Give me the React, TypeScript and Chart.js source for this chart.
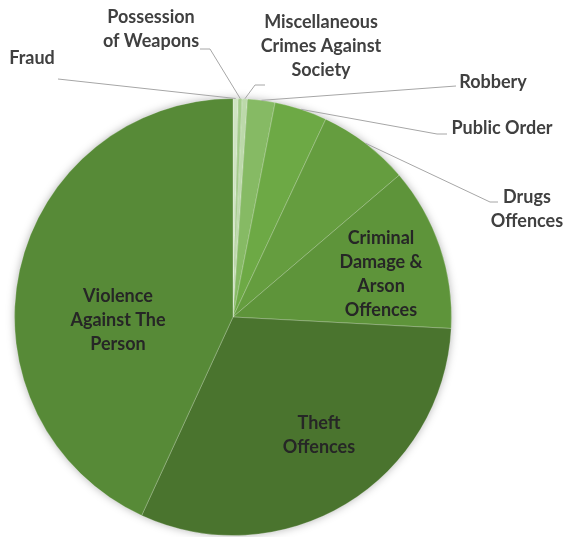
import React, { useEffect, useRef } from "react";
import { Chart, registerables } from "chart.js";

Chart.register(...registerables);

// ---- Data ----
const categories = [
  "Fraud",
  "Possession of Weapons",
  "Miscellaneous Crimes Against Society",
  "Robbery",
  "Public Order",
  "Drugs Offences",
  "Criminal Damage & Arson Offences",
  "Theft Offences",
  "Violence Against The Person",
];
const values = [0.39, 0.28, 0.39, 2.03, 3.89, 6.78, 12.08, 31.03, 43.14];
const labelLines = [
  ["Fraud"],
  ["Possession", "of Weapons"],
  ["Miscellaneous", "Crimes Against", "Society"],
  ["Robbery"],
  ["Public Order"],
  ["Drugs", "Offences"],
  ["Criminal", "Damage &", "Arson", "Offences"],
  ["Theft", "Offences"],
  ["Violence", "Against The", "Person"],
];

// ---- Styles / layout ----
const colors = [
  "#cfe4c2",
  "#a4cc8b",
  "#bcd9aa",
  "#86ba64",
  "#6da945",
  "#659d3f",
  "#5e943a",
  "#4a742e",
  "#578a37",
];
// label anchor (center x, first-line center y) and leader-line points (from slice edge)
const labelLayout: { x: number; y: number; leader?: number[][] }[] = [
  { x: 32, y: 58, leader: [[58, 79]] },
  { x: 151, y: 17, leader: [[210, 49], [200, 49]] },
  { x: 321, y: 22, leader: [[255, 85], [265, 85]] },
  { x: 493, y: 82, leader: [[456, 86]] },
  { x: 502, y: 128, leader: [[437, 134], [447, 134]] },
  { x: 527, y: 197, leader: [[490, 202], [498, 202]] },
  { x: 381, y: 238 },
  { x: 319, y: 423 },
  { x: 118, y: 296 },
];
const FONT = "bold 18px Lato, 'Open Sans', sans-serif";
const LINE_H = 24;

const shadowPlugin = {
  id: "pieShadow",
  beforeDatasetsDraw(chart: any) {
    const arc = chart.getDatasetMeta(0).data[0];
    if (!arc) return;
    const { x, y, outerRadius } = arc.getProps(["x", "y", "outerRadius"], true);
    const ctx = chart.ctx;
    ctx.save();
    ctx.shadowColor = "rgba(0,0,0,0.35)";
    ctx.shadowBlur = 10;
    ctx.fillStyle = "#5a8a3a";
    ctx.beginPath();
    ctx.arc(x, y, outerRadius - 1, 0, Math.PI * 2);
    ctx.fill();
    ctx.restore();
  },
};

const labelPlugin = {
  id: "pieLabels",
  afterDatasetsDraw(chart: any) {
    const ctx = chart.ctx;
    const meta = chart.getDatasetMeta(0);
    ctx.save();
    meta.data.forEach((arc: any, i: number) => {
      const p = arc.getProps(["x", "y", "startAngle", "endAngle", "outerRadius"], true);
      const lay = labelLayout[i];
      if (lay.leader) {
        const mid = (p.startAngle + p.endAngle) / 2;
        const sx = p.x + Math.cos(mid) * p.outerRadius;
        const sy = p.y + Math.sin(mid) * p.outerRadius;
        ctx.strokeStyle = "#a6a6a6";
        ctx.lineWidth = 1;
        ctx.beginPath();
        ctx.moveTo(sx, sy);
        lay.leader.forEach((pt) => ctx.lineTo(pt[0], pt[1]));
        ctx.stroke();
      }
      ctx.font = FONT;
      ctx.fillStyle = i >= 6 ? "#262626" : "#404040";
      ctx.textAlign = "center";
      ctx.textBaseline = "middle";
      labelLines[i].forEach((ln, k) => ctx.fillText(ln, lay.x, lay.y + k * LINE_H));
    });
    ctx.restore();
  },
};

export default function App() {
  const ref = useRef<HTMLCanvasElement>(null);
  useEffect(() => {
    document.body.style.margin = "0";
    const chart = new Chart(ref.current!, {
      type: "pie",
      data: {
        labels: categories,
        datasets: [
          {
            data: values,
            backgroundColor: colors,
            borderColor: "rgba(255,255,255,0.25)",
            borderWidth: 1,
          },
        ],
      },
      options: {
        responsive: false,
        maintainAspectRatio: false,
        devicePixelRatio: 1,
        animation: false,
        layout: { padding: { left: 14, right: 113, top: 98, bottom: 1 } },
        plugins: { legend: { display: false }, tooltip: { enabled: false } },
      },
      plugins: [shadowPlugin, labelPlugin],
    });
    return () => chart.destroy();
  }, []);
  return (
    <div style={{ position: "fixed", left: 0, top: 0, width: 565, height: 537, background: "#fff" }}>
      <canvas ref={ref} width={565} height={537} />
    </div>
  );
}
